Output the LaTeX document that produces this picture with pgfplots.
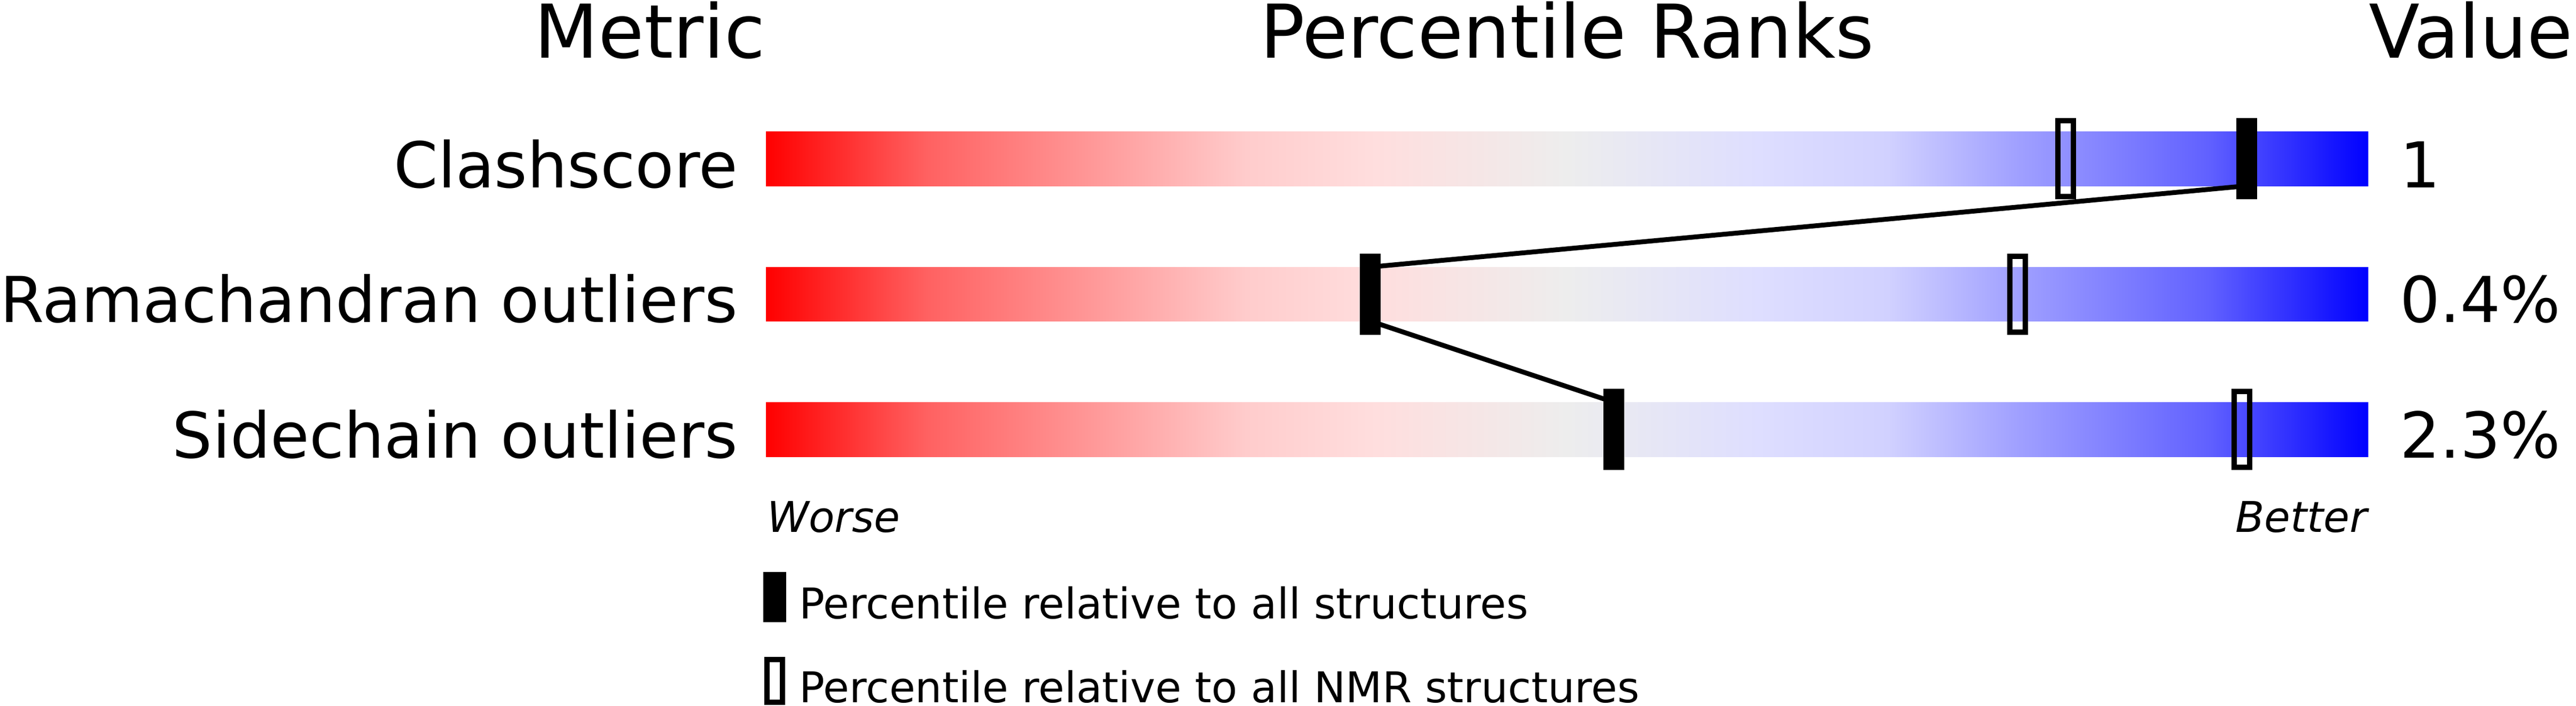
\documentclass[border=0pt]{standalone}
\usepackage{fontspec}
\setmainfont{DejaVu Sans}
\usepackage{pgfplots}
\pgfplotsset{compat=1.18}

% slider colours: red (worse) -> grey -> blue (better); TikZ maps 25bp..75bp onto the bar
\pgfdeclarehorizontalshading{pdbslider}{100bp}{%
  rgb(0bp)=(1,0,0); rgb(25bp)=(1,0,0); rgb(30bp)=(1,.38,.38); rgb(36bp)=(1,.63,.63);
  rgb(40bp)=(1,.8,.8); rgb(44bp)=(1,.87,.87); rgb(50bp)=(.93,.93,.93);
  rgb(56bp)=(.87,.87,1); rgb(60bp)=(.82,.82,1); rgb(64bp)=(.63,.63,1);
  rgb(70bp)=(.38,.38,1); rgb(75bp)=(0,0,1); rgb(100bp)=(0,0,1)}

\pgfdeclareplotmark{solidslab}{%
  \pgfpathrectangle{\pgfpoint{-1.95pt}{-7.6pt}}{\pgfpoint{3.9pt}{15.2pt}}\pgfusepathqfill}
\pgfdeclareplotmark{openslab}{%
  \pgfsetlinewidth{1pt}%
  \pgfpathrectangle{\pgfpoint{-1.45pt}{-7.1pt}}{\pgfpoint{2.9pt}{14.2pt}}\pgfusepathqstroke}

\pgfplotsset{
  solid key/.style={legend image code/.code={\fill[black] (0pt,-2.7pt) rectangle (3.9pt,6.3pt);}},
  open key/.style={legend image code/.code={\draw[black,line width=1pt] (0.5pt,-2.2pt) rectangle (3.4pt,5.8pt);}},
}

\newcommand{\headfont}{\fontsize{13.9}{16}\selectfont}
\newcommand{\rowfont}{\fontsize{11.85}{14}\selectfont}
\newcommand{\notefont}{\fontsize{7.93}{9.5}\selectfont}

\begin{document}
\begin{tikzpicture}[every node/.style={inner sep=0pt}]
\begin{axis}[
  hide axis, scale only axis, clip=false,
  width=482.3pt, height=132.1pt,
  xmin=-47.8, xmax=112.967, ymin=0, ymax=1321, y dir=reverse,
  legend style={at={(axis cs:-0.17,1071)}, anchor=north west, draw=none, fill=none,
    inner sep=0pt, outer sep=0pt, font=\notefont, row sep=5.6pt, column sep=2.5pt,
    nodes={inner sep=0pt}},
  legend cell align=left,
]
% gradient bars, one per metric (percentile 0..100)
\addplot[forget plot, draw=none, shade, shading=pdbslider] coordinates {(0,246) (100,246) (100,348) (0,348)} -- cycle;
\addplot[forget plot, draw=none, shade, shading=pdbslider] coordinates {(0,500) (100,500) (100,601) (0,601)} -- cycle;
\addplot[forget plot, draw=none, shade, shading=pdbslider] coordinates {(0,753) (100,753) (100,855) (0,855)} -- cycle;

% links between the all-structure percentiles
\addplot[forget plot, black, line width=0.9pt] coordinates {(92.4,348) (37.7,500)};
\addplot[forget plot, black, line width=0.9pt] coordinates {(37.7,601) (52.9,753)};

% NMR percentiles (open) and all-structure percentiles (solid)
\addplot[forget plot, black, only marks, mark=openslab] coordinates {(81.1,297) (78.1,550.5) (92.1,804)};
\addplot[forget plot, black, only marks, mark=solidslab] coordinates {(92.4,297) (37.7,550.5) (52.9,804)};

\addlegendimage{solid key}
\addlegendentry{Percentile relative to all structures}
\addlegendimage{open key}
\addlegendentry{Percentile relative to all NMR structures}

\node[anchor=base east, font=\headfont] at (axis cs:0.03,108) {Metric};
\node[anchor=base, font=\headfont] at (axis cs:50,108) {Percentile Ranks};
\node[anchor=base west, font=\headfont] at (axis cs:99.97,108) {Value};

\node[anchor=base east, font=\rowfont] at (axis cs:-1.7,351) {Clashscore};
\node[anchor=base east, font=\rowfont] at (axis cs:-1.7,603) {Ramachandran outliers};
\node[anchor=base east, font=\rowfont] at (axis cs:-1.7,857) {Sidechain outliers};

\node[anchor=base west, font=\rowfont] at (axis cs:101.9,351) {1};
\node[anchor=base west, font=\rowfont] at (axis cs:101.9,603) {0.4\%};
\node[anchor=base west, font=\rowfont] at (axis cs:101.9,857) {2.3\%};

\node[anchor=base west, font=\notefont\itshape] at (axis cs:0,996) {Worse};
\node[anchor=base east, font=\notefont\itshape] at (axis cs:100,996) {Better};
\end{axis}
\pgfresetboundingbox
\path (current axis.south west) rectangle (current axis.north east);
\end{tikzpicture}
\end{document}
